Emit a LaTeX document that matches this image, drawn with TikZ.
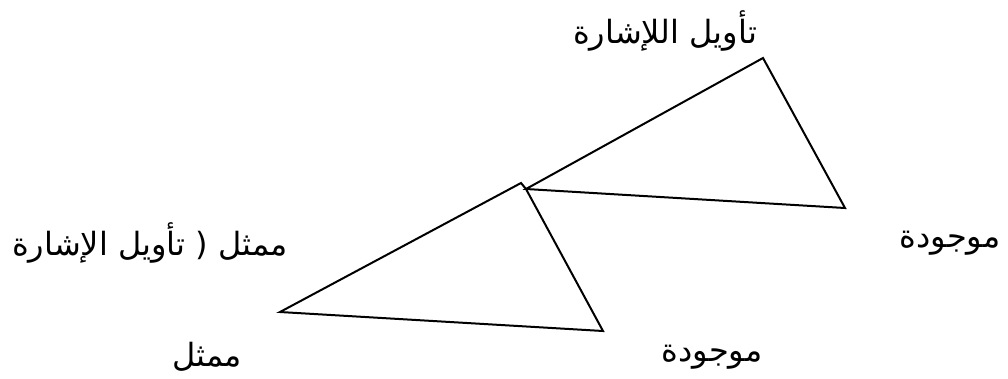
\documentclass[tikz,border=0pt]{standalone}
\usepackage{fontspec}
\newfontfamily\arabicfont[Script=Arabic]{DejaVu Sans}
\TeXXeTstate=1
\tikzset{lbl/.style={font=\arabicfont\fontsize{32}{38}\selectfont, inner sep=0pt},
  edge/.style={line width=2pt, line join=miter}}
\begin{document}
\begin{tikzpicture}[x=1pt,y=-1pt]
\useasboundingbox (0,0) rectangle (1008,378);
\coordinate (A) at (763,58);
\coordinate (B) at (845,208);
\coordinate (C) at (526,189);
\coordinate (D) at (521,183);
\coordinate (E) at (280,312);
\coordinate (F) at (603,331);
\draw[edge] (C) -- (A) -- (B) -- cycle;
\draw[edge] (E) -- (D) -- (C) -- (F) -- cycle;
\node[lbl] (t1) at (665,31) {\beginR تأويل اللإشارة\endR};
\node[lbl] (t2) at (150,243) {\beginR ممثل ( تأويل الإشارة\endR};
\node[lbl] (t3) at (950,243) {\beginR موجودة\endR};
\node[lbl] (t4) at (207,357) {\beginR ممثل\endR};
\node[lbl] (t5) at (712,357) {\beginR موجودة\endR};
\end{tikzpicture}
\end{document}
